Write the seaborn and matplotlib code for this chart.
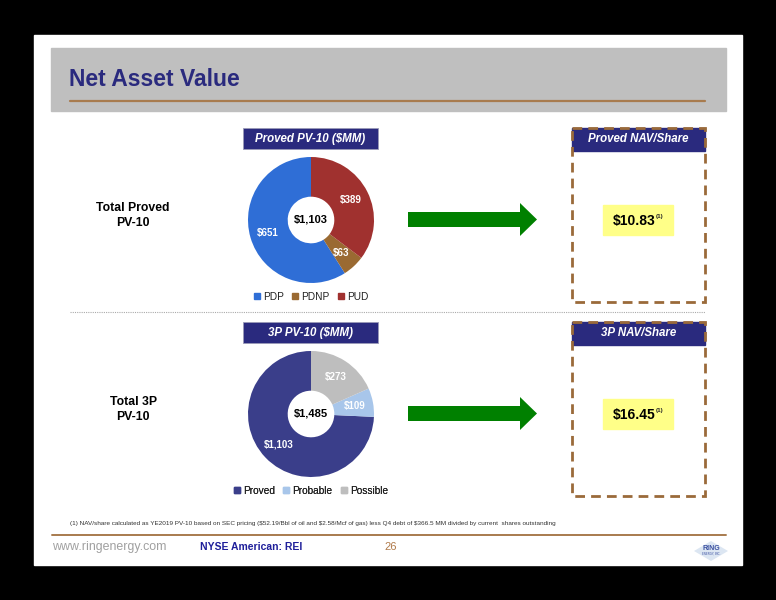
import matplotlib
matplotlib.use("Agg")
import matplotlib.pyplot as plt
from matplotlib.patches import Rectangle, FancyArrow, Polygon
from matplotlib.lines import Line2D
import seaborn as sns

# -------------------------------------------------------------
# Datos
# -------------------------------------------------------------
proved_labels = ["PDP", "PDNP", "PUD"]
proved_values = [651, 63, 389]
proved_total = "$1,103"

p3_labels = ["Proved", "Probable", "Possible"]
p3_values = [1103, 109, 273]
p3_total = "$1,485"

nav_titles = ["Proved NAV/Share", "3P NAV/Share"]
nav_values = ["$10.83", "$16.45"]
row_labels = ["Total Proved\nPV-10", "Total 3P\nPV-10"]
pie_titles = ["Proved PV-10 ($MM)", "3P PV-10 ($MM)"]

footnote = ("(1) NAV/share calculated as YE2019 PV-10 based on SEC pricing ($52.19/Bbl of oil and "
            "$2.58/Mcf of gas) less Q4 debt of $366.5 MM divided by current  shares outstanding")

sns.set_theme(style="white")
plt.rcParams["font.family"] = ["Liberation Sans", "DejaVu Sans"]

proved_pal = sns.color_palette(["#2F6ED6", "#9A6A32", "#A0312F"])
p3_pal = sns.color_palette(["#3A3E8A", "#A8C6EA", "#BEBEBE"])
navy = "#2A2A7E"
brown = "#A87B4E"

W, H = 776, 600
fig = plt.figure(figsize=(W / 100, H / 100), dpi=100, facecolor="black")
bg = fig.add_axes([0, 0, 1, 1])
bg.set_xlim(0, W)
bg.set_ylim(H, 0)
bg.axis("off")

# diapositiva y encabezado
bg.add_patch(Rectangle((34, 35), 708, 530, color="white", zorder=0))
bg.add_patch(Rectangle((51, 48), 675, 63, color="#BFBFBF", zorder=1))
bg.plot([70, 705], [101, 101], color=brown, lw=1.6, zorder=2)
bg.text(69, 79, "Net Asset Value", color=navy, fontsize=16.5, fontweight="heavy",
        va="center", ha="left", zorder=3)

# separador
bg.plot([70, 705], [312, 312], color="#AAAAAA", lw=0.8, ls=(0, (1, 1)))


def draw_pie(cy, values, labels, pal, total, title):
    cx, r = 311, 63
    ax = fig.add_axes([(cx - r) / W, (H - cy - r) / H, 2 * r / W, 2 * r / H])
    wedges, texts = ax.pie(values, colors=pal, startangle=90, counterclock=True,
                           radius=1, labels=["$" + format(v, ",") for v in values],
                           labeldistance=0.71,
                           wedgeprops=dict(width=0.63, linewidth=0),
                           textprops=dict(color="white", fontsize=7, fontweight="bold",
                                          ha="center", va="center"))
    ax.set_xlim(-1, 1)
    ax.set_ylim(-1, 1)
    ax.axis("off")
    ax.text(0, 0, total, ha="center", va="center", fontsize=8, fontweight="bold", color="black")

    ty = cy - 81
    bg.add_patch(Rectangle((243, ty - 11), 135, 21, facecolor=navy, edgecolor="#9A9AB8", lw=0.6))
    bg.text(310.5, ty, title, color="white", fontsize=8.3, fontweight="bold", style="italic",
            ha="center", va="center")

    handles = [Line2D([], [], marker="s", ls="", color=c, markersize=4.5) for c in pal]
    leg = bg.legend(handles, labels, loc="center", bbox_to_anchor=(311, cy + 77),
                    bbox_transform=bg.transData, ncol=3, frameon=False, fontsize=7.3,
                    handlelength=0.6, handletextpad=0.3, columnspacing=0.8, borderpad=0)
    for t in leg.get_texts():
        t.set_color("#222222")
    bg.add_artist(leg)


def draw_nav(cy, title, value, label):
    # etiqueta izquierda
    bg.text(133, cy - 4, label, ha="center", va="center", fontsize=8.8, fontweight="bold",
            linespacing=1.25, color="black")
    # flecha verde
    bg.add_patch(FancyArrow(408, cy, 112 + 17, 0, width=15, head_width=33, head_length=17,
                            length_includes_head=True, color="#008000", lw=0))
    # caja punteada
    top = cy - 92
    bg.add_patch(Rectangle((572, top), 133, 23, color=navy, zorder=2))
    bg.text(638.5, top + 11.5, title, color="white", fontsize=8.3, fontweight="bold",
            style="italic", ha="center", va="center", zorder=3)
    bg.add_patch(Rectangle((572, top), 133, 174, fill=False, edgecolor="#9A6A3A", lw=2,
                           ls=(0, (3.5, 2.2)), zorder=4))
    # valor
    bg.add_patch(Rectangle((603, cy - 15), 70, 30, color="#FFFF88", zorder=2))
    t = bg.text(634, cy + 1, value, ha="center", va="center", fontsize=10, fontweight="bold",
                color="black", zorder=3)
    bg.annotate("(1)", xy=(1, 0.95), xycoords=t, xytext=(0.5, 0), textcoords="offset points",
                ha="left", va="top", fontsize=4.5, fontweight="bold", zorder=3)


draw_pie(220, proved_values, proved_labels, proved_pal, proved_total, pie_titles[0])
draw_pie(414, p3_values, p3_labels, p3_pal, p3_total, pie_titles[1])
draw_nav(219.5, nav_titles[0], nav_values[0], row_labels[0])
draw_nav(413.5, nav_titles[1], nav_values[1], row_labels[1])

# pie de pagina
bg.text(70, 524, footnote, fontsize=4.6, color="#333333", ha="left", va="center")
bg.plot([52, 726], [535, 535], color=brown, lw=1.4)
bg.text(52, 547, "www.ringenergy.com", fontsize=8.9, color="#A0A0A0", ha="left", va="center")
bg.text(200, 547, "NYSE American: REI", fontsize=7.5, fontweight="bold", color="#1F1F9A",
        ha="left", va="center")
bg.text(384, 547, "26", fontsize=8, color="#B07A4A", ha="left", va="center")
bg.add_patch(Polygon([[694, 551], [711, 541], [728, 551], [711, 561]], closed=True,
                     color="#DCE6F2", lw=0))
bg.text(711, 549, "RING", fontsize=5, fontweight="bold", color="#3A4FA0", ha="center", va="center")
bg.text(711, 554, "ENERGY, INC.", fontsize=2, color="#3A4FA0", ha="center", va="center")

fig.savefig("out.png", dpi=100, facecolor="black")
